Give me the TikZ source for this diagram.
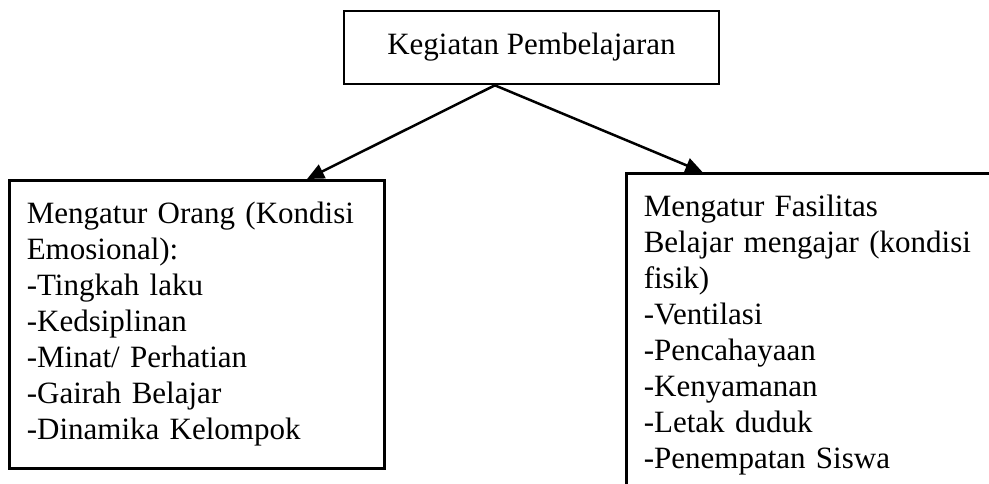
\documentclass[tikz,border=0pt]{standalone}
\usepackage{fontspec}
\setmainfont{Liberation Serif}
\usetikzlibrary{arrows.meta,calc}

\begin{document}
\begin{tikzpicture}[x=1pt,y=-1pt]
\tikzstyle{BoxStyle}=[draw, line width=2.6pt, font=\fontsize{31}{36}\selectfont]
\tikzstyle{ListStyle}=[BoxStyle, anchor=north west, align=left, inner xsep=17.5pt]
\tikzstyle{ArrowStyle}=[line width=2.5pt, -{Triangle[length=17pt,width=15pt]}]
\useasboundingbox (0,0) rectangle (989,483);
\clip (0,0) rectangle (989,483);
\node[BoxStyle, minimum width=375pt, minimum height=73pt] (kegiatan) at (531.5,47.5) {Kegiatan Pembelajaran};
\node[ListStyle, text width=340pt, minimum height=288pt] (orang) at (8,179) {Mengatur Orang (Kondisi\\ Emosional):\\ -Tingkah laku\\ -Kedsiplinan\\ -Minat/ Perhatian\\ -Gairah Belajar\\ -Dinamika Kelompok};
\node[ListStyle, text width=405pt, minimum height=323pt] (fasilitas) at (625,172) {Mengatur Fasilitas\\ Belajar mengajar (kondisi\\ fisik)\\ -Ventilasi\\ -Pencahayaan\\ -Kenyamanan\\ -Letak duduk\\ -Penempatan Siswa};
\coordinate (pecah) at ($(kegiatan.south west)!0.403!(kegiatan.south east)$);
\draw[ArrowStyle] (pecah) -- ($(orang.north west)!0.792!(orang.north east)$);
\draw[ArrowStyle] (pecah) -- ($(fasilitas.north west)!0.175!(fasilitas.north east)$);
\end{tikzpicture}
\end{document}
